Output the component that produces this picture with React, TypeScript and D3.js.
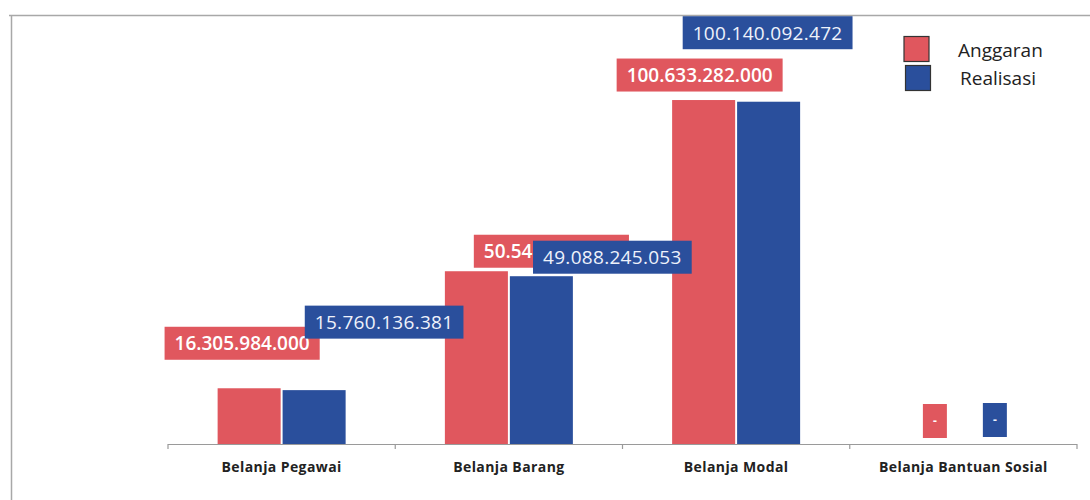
import React, { useEffect, useRef } from 'react'
import * as d3 from 'd3'

const categories = ['Belanja Pegawai', 'Belanja Barang', 'Belanja Modal', 'Belanja Bantuan Sosial']
const seriesNames = ['Anggaran', 'Realisasi']
const anggaran = [16305984000, 50545000000, 100633282000, 0]
const realisasi = [15760136381, 49088245053, 100140092472, 0]

// label box centre, relative to the top-centre of its bar (labels were dragged by hand)
const anggaranLabelOffsets = [[-7, -45], [75, -20], [-4, -25], [4, -23]]
const realisasiLabelOffsets = [[70, -68], [71, -19], [-1, -69], [-1, -24]]

const RED = '#e0575e'
const BLUE = '#2a4f9c'

const fmt = (v: number) => (v === 0 ? '-' : d3.format(',')(v).replace(/,/g, '.'))

export default function App() {
  const ref = useRef<SVGSVGElement>(null)

  useEffect(() => {
    if (!ref.current) return
    const svg = d3.select(ref.current)
    svg.selectAll('*').remove()

    const W = 1090
    const H = 500
    const baseY = 444
    const font = "'Open Sans', 'Noto Sans', sans-serif"

    // frame
    svg.append('line').attr('x1', 9).attr('x2', W).attr('y1', 15.5).attr('y2', 15.5)
      .attr('stroke', '#a8a8a8').attr('stroke-width', 1.5)
    svg.append('line').attr('x1', 11.5).attr('x2', 11.5).attr('y1', 15).attr('y2', H)
      .attr('stroke', '#a8a8a8').attr('stroke-width', 1.5)

    const x0 = d3.scaleBand<string>().domain(categories).range([168, 1077])
    const groupW = 128
    const x1 = d3.scaleBand<string>().domain(seriesNames).range([0, groupW]).paddingInner(0.03)
    const groupOff = (x0.bandwidth() - groupW) / 2
    const y = d3.scaleLinear().domain([0, 100e9]).range([baseY, baseY - 341.8])

    // axis
    const axis = svg.append('g')
    axis.append('line').attr('x1', 168).attr('x2', 1077).attr('y1', baseY + 0.5).attr('y2', baseY + 0.5)
      .attr('stroke', '#9a9a9a').attr('stroke-width', 1.2)
    const edges = categories.map(c => x0(c)!).concat([x0(categories[categories.length - 1])! + x0.bandwidth()])
    axis.selectAll('line.tick').data(edges).enter().append('line')
      .attr('x1', d => d).attr('x2', d => d).attr('y1', baseY).attr('y2', baseY + 5)
      .attr('stroke', '#9a9a9a').attr('stroke-width', 1.2)
    axis.selectAll('text').data(categories).enter().append('text')
      .attr('x', d => x0(d)! + x0.bandwidth() / 2)
      .attr('y', 472)
      .attr('text-anchor', 'middle')
      .attr('font-family', font)
      .attr('font-weight', 700)
      .attr('font-size', 14)
      .attr('letter-spacing', 0.4)
      .attr('fill', '#222')
      .text(d => d)

    const series = [
      { name: 'Anggaran', values: anggaran, color: RED, offsets: anggaranLabelOffsets, weight: 600, textFill: '#ffffff' },
      { name: 'Realisasi', values: realisasi, color: BLUE, offsets: realisasiLabelOffsets, weight: 400, textFill: '#eef2fb' },
    ]

    // bars
    series.forEach(s => {
      svg.append('g').selectAll('rect').data(s.values).enter().append('rect')
        .attr('x', (_, i) => x0(categories[i])! + groupOff + x1(s.name)!)
        .attr('width', x1.bandwidth())
        .attr('y', d => y(d))
        .attr('height', d => baseY - y(d))
        .attr('fill', s.color)
    })

    // data labels
    series.forEach(s => {
      const g = svg.append('g')
      s.values.forEach((v, i) => {
        const cx = x0(categories[i])! + groupOff + x1(s.name)! + x1.bandwidth() / 2 + s.offsets[i][0]
        const cy = y(v) + s.offsets[i][1]
        const lg = g.append('g')
        const rect = lg.append('rect').attr('fill', s.color)
        const t = lg.append('text')
          .attr('x', cx).attr('y', cy).attr('dy', '0.36em')
          .attr('text-anchor', 'middle')
          .attr('font-family', font)
          .attr('font-weight', v === 0 ? 700 : s.weight)
          .attr('font-size', v === 0 ? 12 : 19)
          .attr('letter-spacing', s.name === 'Realisasi' && v !== 0 ? 0.3 : 0)
          .attr('fill', s.textFill)
          .text(fmt(v))
        const tw = (t.node() as SVGTextElement).getComputedTextLength()
        const bw = v === 0 ? 24 : tw + 20
        const bh = v === 0 ? 34 : 33
        rect.attr('x', cx - bw / 2).attr('y', cy - bh / 2).attr('width', bw).attr('height', bh)
      })
    })

    // legend
    const lg = svg.append('g')
    series.forEach((s, i) => {
      lg.append('rect')
        .attr('x', 904 + i * 1.5).attr('y', 36.5 + i * 29)
        .attr('width', 25).attr('height', 25)
        .attr('fill', s.color)
        .attr('stroke', '#333').attr('stroke-width', 1.2)
      lg.append('text')
        .attr('x', 958 + i * 2).attr('y', 57 + i * 28)
        .attr('font-family', font)
        .attr('font-size', 19)
        .attr('fill', '#222')
        .text(s.name)
    })
  }, [])

  return (
    <svg
      ref={ref}
      width={1090}
      height={500}
      style={{ position: 'absolute', left: 0, top: 0, background: '#fff' }}
    />
  )
}
